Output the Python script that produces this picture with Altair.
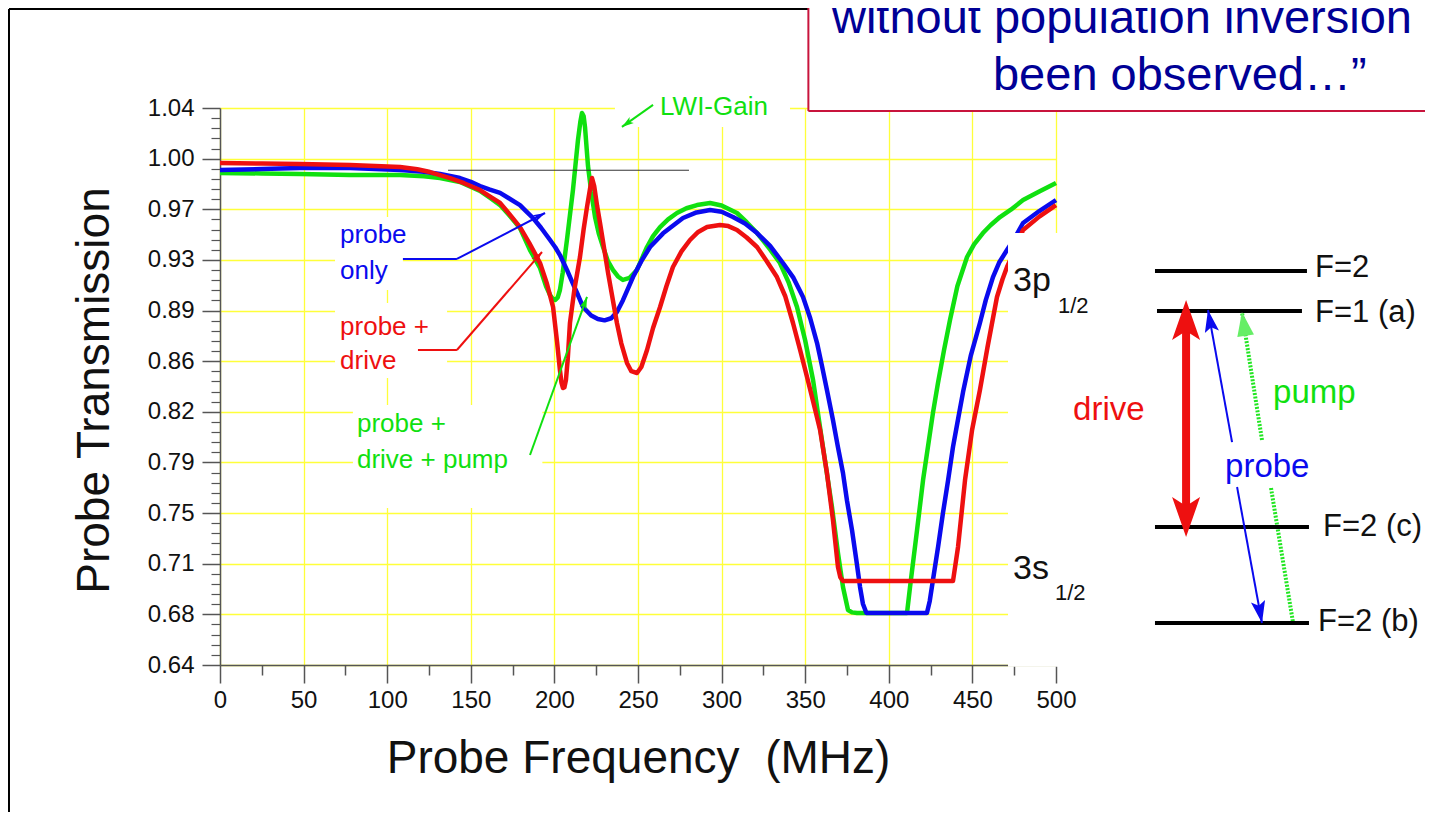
import altair as alt
import pandas as pd

FONT = "Liberation Sans"
GREEN = "#10E010"
BLUE = "#0A0AEE"
RED = "#EE1010"
GRID = "#FFFF3A"
BOXRED = "#C8143C"

blue_x = [0, 25, 47.8, 77.8, 107.7, 122, 131.6, 137.6, 143.5, 150, 155.5, 161, 167.5, 173, 179.4,
          183, 187.2, 192, 197.4, 200.5, 203.3, 207.5, 211, 214.1, 217.1, 222, 226, 230, 234, 237.4,
          241, 247.0, 252, 257.2, 265, 276.9, 285, 293.1, 300, 306.8, 314, 321.2, 329, 336.7, 343,
          348.7, 353, 357.1, 360, 363.0, 366.6, 369.5, 372.6, 375, 378.0, 380.5, 382.8, 384.5, 386.6,
          400, 422.8, 424.5, 426.4, 429.5, 432.4, 435.5, 438.4, 441.5, 444.4, 449, 454.5, 458, 462.3,
          466, 470.7, 475, 480.3, 490, 500]
blue_y = [0.9955, 0.9962, 0.9969, 0.9969, 0.9955, 0.9942, 0.9926, 0.9912, 0.9897, 0.9870, 0.9840,
          0.9815, 0.9790, 0.9750, 0.9703, 0.9660, 0.9610, 0.9540, 0.9452, 0.9400, 0.9344, 0.9237,
          0.9140, 0.9057, 0.8971, 0.8910, 0.8885, 0.8875, 0.8890, 0.8935, 0.9020, 0.9186, 0.9300,
          0.9402, 0.9500, 0.9610, 0.9650, 0.9667, 0.9655, 0.9617, 0.9570, 0.9502, 0.9410, 0.9287,
          0.9180, 0.9043, 0.8890, 0.8712, 0.8550, 0.8375, 0.8159, 0.7970, 0.7779, 0.7580, 0.7369,
          0.7160, 0.6960, 0.6840, 0.6773, 0.6773, 0.6773, 0.6860, 0.7010, 0.7250, 0.7492, 0.7730,
          0.7966, 0.8170, 0.8360, 0.8620, 0.8856, 0.9020, 0.9186, 0.9290, 0.9380, 0.9460, 0.9574,
          0.9660, 0.9739]

red_x = [0, 25, 47.8, 77.8, 107.7, 118, 125.6, 131, 137.6, 146, 155.5, 162, 167.5, 173, 179.4, 185,
         191.4, 195.5, 199.2, 201.6, 203.3, 204.2, 205.1, 206.0, 206.9, 208, 209.3, 212, 215.3, 217.5,
         219.5, 221.3, 222.5, 223.8, 225.5, 227.3, 232.1, 237.4, 240, 243.4, 246, 249.4, 252, 255.4,
         259, 263.2, 267, 270.9, 276, 281.1, 286, 291.3, 299.0, 304, 309.2, 315, 321.2, 327, 333.1,
         338, 342.7, 347, 351.1, 355, 358.9, 363.0, 366.6, 369.6, 371, 372.6, 400, 438.4, 441.4,
         445.6, 449.8, 454.5, 459, 464.7, 468, 470.7, 475, 480.3, 490, 500]
red_y = [1.0005, 1.0001, 0.9998, 0.9991, 0.9976, 0.9960, 0.9940, 0.9920, 0.9897, 0.9860, 0.9811,
         0.9760, 0.9718, 0.9640, 0.9545, 0.9430, 0.9287, 0.9140, 0.8971, 0.8720, 0.8518, 0.8430,
         0.8389, 0.8395, 0.8447, 0.8600, 0.8856, 0.9100, 0.9330, 0.9530, 0.9689, 0.9820, 0.9897,
         0.9840, 0.9700, 0.9574, 0.9215, 0.8856, 0.8710, 0.8569, 0.8510, 0.8497, 0.8540, 0.8662,
         0.8820, 0.8971, 0.9120, 0.9258, 0.9370, 0.9452, 0.9510, 0.9545, 0.9560, 0.9552, 0.9524,
         0.9470, 0.9402, 0.9300, 0.9186, 0.9050, 0.8856, 0.8660, 0.8468, 0.8280, 0.8088, 0.7779,
         0.7441, 0.7104, 0.7030, 0.7003, 0.7003, 0.7003, 0.7247, 0.7729, 0.8088, 0.8375, 0.8680,
         0.9043, 0.9170, 0.9258, 0.9370, 0.9524, 0.9620, 0.9703]

green_x = [0, 25, 47.8, 77.8, 107.7, 122, 131.6, 143.5, 155.5, 162, 167.5, 173, 179.4, 185.4, 191.4,
           195, 197.4, 199, 200.5, 202, 203.3, 205, 207.5, 211.1, 214.1, 215.5, 216.5, 217.5, 218.3,
           220.1, 222, 224.3, 226.5, 229.1, 232, 235.0, 238, 241.0, 245, 249.4, 252, 255.4, 259,
           263.2, 268, 273.3, 279, 285.3, 293.1, 300, 309.2, 315, 321.2, 328, 334.9, 340, 345.1, 350,
           354.7, 360.6, 366.0, 369.6, 372.6, 375.6, 378, 381.0, 395, 410.9, 412.7, 416.9, 420.5,
           426.4, 429.4, 433, 436.6, 441, 446.8, 451, 456.3, 461, 466.5, 473, 480.3, 490, 500]
green_y = [0.9933, 0.9930, 0.9926, 0.9919, 0.9919, 0.9910, 0.9897, 0.9869, 0.9804, 0.9750, 0.9703,
           0.9630, 0.9538, 0.9380, 0.9251, 0.9120, 0.9057, 0.9030, 0.9021, 0.9040, 0.9093, 0.9220,
           0.9452, 0.9811, 1.0170, 1.0300, 1.0364, 1.0340, 1.0264, 0.9983, 0.9800, 0.9617, 0.9500,
           0.9402, 0.9300, 0.9237, 0.9190, 0.9165, 0.9180, 0.9237, 0.9310, 0.9402, 0.9480, 0.9545,
           0.9600, 0.9646, 0.9680, 0.9703, 0.9718, 0.9700, 0.9646, 0.9580, 0.9502, 0.9400, 0.9287,
           0.9150, 0.8971, 0.8730, 0.8447, 0.7966, 0.7535, 0.7204, 0.6960, 0.6795, 0.6778, 0.6773,
           0.6773, 0.6773, 0.6960, 0.7369, 0.7729, 0.8210, 0.8425, 0.8660, 0.8878, 0.9120, 0.9330,
           0.9420, 0.9502, 0.9560, 0.9617, 0.9670, 0.9739, 0.9800, 0.9861]

x_ticks = [0, 50, 100, 150, 200, 250, 300, 350, 400, 450, 500]
x_minor = [25, 75, 125, 175, 225, 275, 325, 375, 425, 475]
y_ticks = [0.64, 0.67636, 0.71273, 0.74909, 0.78545, 0.82182, 0.85818, 0.89455, 0.93091,
           0.96727, 1.00364, 1.04]
y_minor = [round(0.64 + k * 0.4 / 55, 6) for k in range(56) if k % 5 != 0]

bg_x = [68.8, 68.8, 79.5, 236.2]
bg_x2 = [109.4, 135.8, 192.8, 340.9]
bg_y = [0.9617, 0.9000, 0.8267, 1.0544]
bg_y2 = [0.9093, 0.8461, 0.7527, 1.0264]

seg_x = [136.4, 559.2, 560.4, 559.2, 559.2, 577.8, 605.3, 608.3, 259.0, 109.4, 141.7, 118.4, 141.7,
         185.4, -126.2, -126.2, 351.9, 351.9]
seg_x2 = [280.5, 650.1, 647.1, 651.3, 651.3, 577.8, 590.9, 623.2, 240.4, 141.7, 194.4, 141.7, 192.6,
          219.5, -126.2, 351.7, 351.9, 723.0]
seg_y = [0.9953, 0.9229, 0.8942, 0.7391, 0.6702, 0.8798, 0.8001, 0.7678, 1.0422, 0.9316, 0.9316,
         0.8662, 0.8662, 0.7908, 0.52, 1.1111, 1.0378, 1.0378]
seg_y2 = [0.9953, 0.9229, 0.8942, 0.7391, 0.6702, 0.7542, 0.8949, 0.6702, 1.0264, 0.9316, 0.9646,
          0.8662, 0.9366, 0.9043, 1.1111, 1.1111, 1.12, 1.0378]
seg_c = ["#333333", "#000000", "#000000", "#000000", "#000000", RED, BLUE, BLUE, GREEN, BLUE, BLUE,
         RED, RED, GREEN, "#000000", "#000000", BOXRED, BOXRED]
seg_w = [1, 4, 4, 4, 4, 8, 2, 2, 2, 2, 2, 2, 2, 2, 2, 2, 2, 2]

pump_x = [623.2, 628.6]
pump_x2 = [611.2, 641.7]
pump_y = [0.8016, 0.7671]
pump_y2 = [0.8935, 0.6709]

BIG = "M0,0L-0.7,2L0,1.55L0.7,2Z"
MID = "M0,0L-0.65,2L0,1.6L0.65,2Z"
SMALL = "M0,0L-0.6,2L0,1.5L0.6,2Z"
TRI = "M0,0L-0.7,2L0.7,2Z"
head_x = [577.8, 577.8, 590.9, 623.2, 611.2, 240.4, 194.4, 192.6, 219.5]
head_y = [0.9021, 0.7319, 0.8949, 0.6702, 0.8935, 1.0264, 0.9646, 0.9366, 0.9043]
head_ang = [0, 180, 349.7, 169.6, 351.1, 234.7, 62.4, 40.9, 19.8]
head_c = [RED, RED, BLUE, BLUE, "#66EE66", GREEN, BLUE, RED, GREEN]
head_sz = [1600, 1600, 484, 484, 576, 144, 144, 144, 144]
head_shape = [BIG, BIG, MID, MID, TRI, SMALL, SMALL, SMALL, SMALL]

lab_text = ["LWI-Gain", "probe", "only", "probe +", "drive", "probe +", "drive + pump",
            "drive", "probe", "pump", "F=2", "F=1 (a)", "F=2 (c)", "F=2 (b)",
            "3p", "1/2", "3s", "1/2"]
lab_x = [263.2, 71.8, 71.8, 71.8, 71.8, 81.9, 81.9,
         510.2, 601.1, 629.8, 654.9, 654.9, 659.7, 656.7,
         474.3, 501.2, 474.3, 499.4]
lab_y = [1.0407, 0.9488, 0.9229, 0.8827, 0.8583, 0.8131, 0.7872,
         0.8231, 0.7822, 0.8353, 0.9251, 0.8928, 0.7391, 0.6709,
         0.9158, 0.8978, 0.7089, 0.6917]
lab_c = [GREEN, BLUE, BLUE, RED, RED, GREEN, GREEN,
         RED, BLUE, GREEN, "#111111", "#111111", "#111111", "#111111",
         "#111111", "#111111", "#111111", "#111111"]
lab_fs = [26, 26, 26, 26, 26, 26, 26,
          33, 33, 33, 31, 31, 31, 31,
          34, 22, 34, 22]

box_x, box_x2, box_y, box_y2 = [351.9], [723.0], [1.0378], [1.12]
quote_text = ["without population inversion", "been observed\u2026\u201d"]
quote_x = [366.0, 462.3]
quote_y = [1.0939, 1.0529]

cover_x, cover_x2, cover_y, cover_y2 = [471.3], [723.0], [0.6388], [0.9502]

xs = alt.Scale(domain=[0, 500], nice=False, zero=False)
ys = alt.Scale(domain=[0.64, 1.04], nice=False, zero=False)


def X(f, axis=None):
    return alt.X(f, type="quantitative", scale=xs, axis=axis)


def Y(f, axis=None):
    return alt.Y(f, type="quantitative", scale=ys, axis=axis)


x_major_axis = alt.Axis(
    orient="bottom", values=x_ticks, tickSize=18, tickWidth=1.5, tickColor="#555555",
    domainColor="#555555", domainWidth=1.5, labelFontSize=24, labelFont=FONT, labelColor="#111111",
    labelPadding=5, labelFlush=False, labelOverlap=False, grid=True, gridColor=GRID, gridWidth=1.3,
    title="Probe Frequency\u00a0 (MHz)", titleFont=FONT, titleFontSize=46, titleFontWeight="normal",
    titleColor="#111111", titleX=418, titleY=107, titleBaseline="alphabetic", titleAlign="center",
    zindex=0)
y_major_axis = alt.Axis(
    orient="left", values=y_ticks, format=".2f", tickSize=18, tickWidth=1.5, tickColor="#555555",
    domainColor="#555555", domainWidth=1.5, labelFontSize=24, labelFont=FONT, labelColor="#111111",
    labelPadding=8, labelFlush=False, labelOverlap=False, grid=True, gridColor=GRID, gridWidth=1.3,
    title="Probe Transmission", titleFont=FONT, titleFontSize=46, titleFontWeight="normal",
    titleColor="#111111", titleAngle=270, titleX=-112, titleY=282, titleBaseline="alphabetic",
    titleAlign="center", zindex=0)
x_minor_axis = alt.Axis(orient="bottom", values=x_minor, tickSize=10, tickWidth=1.5, tickColor="#555555",
                        labels=False, domain=False, grid=False, title="", zindex=0)
y_minor_axis = alt.Axis(orient="left", values=y_minor, tickSize=9, tickWidth=1.2, tickColor="#555555",
                        labels=False, domain=False, grid=False, title="", zindex=0)

bg = alt.Chart(pd.DataFrame({"x": bg_x, "x2": bg_x2, "y": bg_y, "y2": bg_y2})).mark_rect(
    color="white", clip=False).encode(x=X("x"), x2="x2", y=Y("y"), y2="y2")


def curve(xv, yv, color, xa=None, ya=None):
    df = pd.DataFrame({"x": xv, "y": yv})
    return alt.Chart(df).mark_line(color=color, strokeWidth=4.5, strokeJoin="round",
                                   clip=False).encode(x=X("x", xa), y=Y("y", ya))


green_line = curve(green_x, green_y, GREEN, x_major_axis, y_major_axis)
blue_line = curve(blue_x, blue_y, BLUE, x_minor_axis, y_minor_axis)
red_line = curve(red_x, red_y, RED)

cover = alt.Chart(pd.DataFrame({"x": cover_x, "x2": cover_x2, "y": cover_y, "y2": cover_y2})).mark_rect(
    color="white", clip=False).encode(x=X("x"), x2="x2", y=Y("y"), y2="y2")

qbox = alt.Chart(pd.DataFrame({"x": box_x, "x2": box_x2, "y": box_y, "y2": box_y2})).mark_rect(
    color="white", clip=False).encode(x=X("x"), x2="x2", y=Y("y"), y2="y2")

segs = alt.Chart(pd.DataFrame({"x": seg_x, "x2": seg_x2, "y": seg_y, "y2": seg_y2,
                               "c": seg_c, "w": seg_w})).mark_rule(clip=False, strokeCap="butt").encode(
    x=X("x"), x2="x2", y=Y("y"), y2="y2",
    color=alt.Color("c:N", scale=None), size=alt.Size("w:Q", scale=None))

pumps = alt.Chart(pd.DataFrame({"x": pump_x, "x2": pump_x2, "y": pump_y, "y2": pump_y2})).mark_rule(
    clip=False, color="#22E622", strokeWidth=4, strokeDash=[2, 1.5], strokeCap="butt").encode(
    x=X("x"), x2="x2", y=Y("y"), y2="y2")

heads = alt.Chart(pd.DataFrame({"x": head_x, "y": head_y, "a": head_ang, "c": head_c,
                                "s": head_sz, "sh": head_shape})).mark_point(
    filled=True, opacity=1, strokeWidth=0, clip=False).encode(
    x=X("x"), y=Y("y"), angle=alt.Angle("a:Q", scale=None), color=alt.Color("c:N", scale=None),
    size=alt.Size("s:Q", scale=None), shape=alt.Shape("sh:N", scale=None))

labels = alt.Chart(pd.DataFrame({"x": lab_x, "y": lab_y, "t": lab_text, "c": lab_c, "fs": lab_fs})).mark_text(
    align="left", baseline="middle", font=FONT, clip=False).encode(
    x=X("x"), y=Y("y"), text="t:N", color=alt.Color("c:N", scale=None), size=alt.Size("fs:Q", scale=None))

quote = alt.Chart(pd.DataFrame({"x": quote_x, "y": quote_y, "t": quote_text})).mark_text(
    align="left", baseline="alphabetic", font=FONT, fontSize=47, color="#000096", clip=False).encode(
    x=X("x"), y=Y("y"), text="t:N")

chart = alt.layer(
    bg, green_line, blue_line, red_line, cover, qbox, pumps, segs, heads, labels, quote
).resolve_axis(
    x="independent", y="independent"
).properties(
    width=836, height=557,
    padding={"left": 212, "top": 100, "right": 369, "bottom": 147},
    autosize=alt.AutoSizeParams(type="none"),
    background="white",
).configure_view(strokeOpacity=0)

chart.save("out.html", embed_options={"renderer": "svg", "actions": False})
